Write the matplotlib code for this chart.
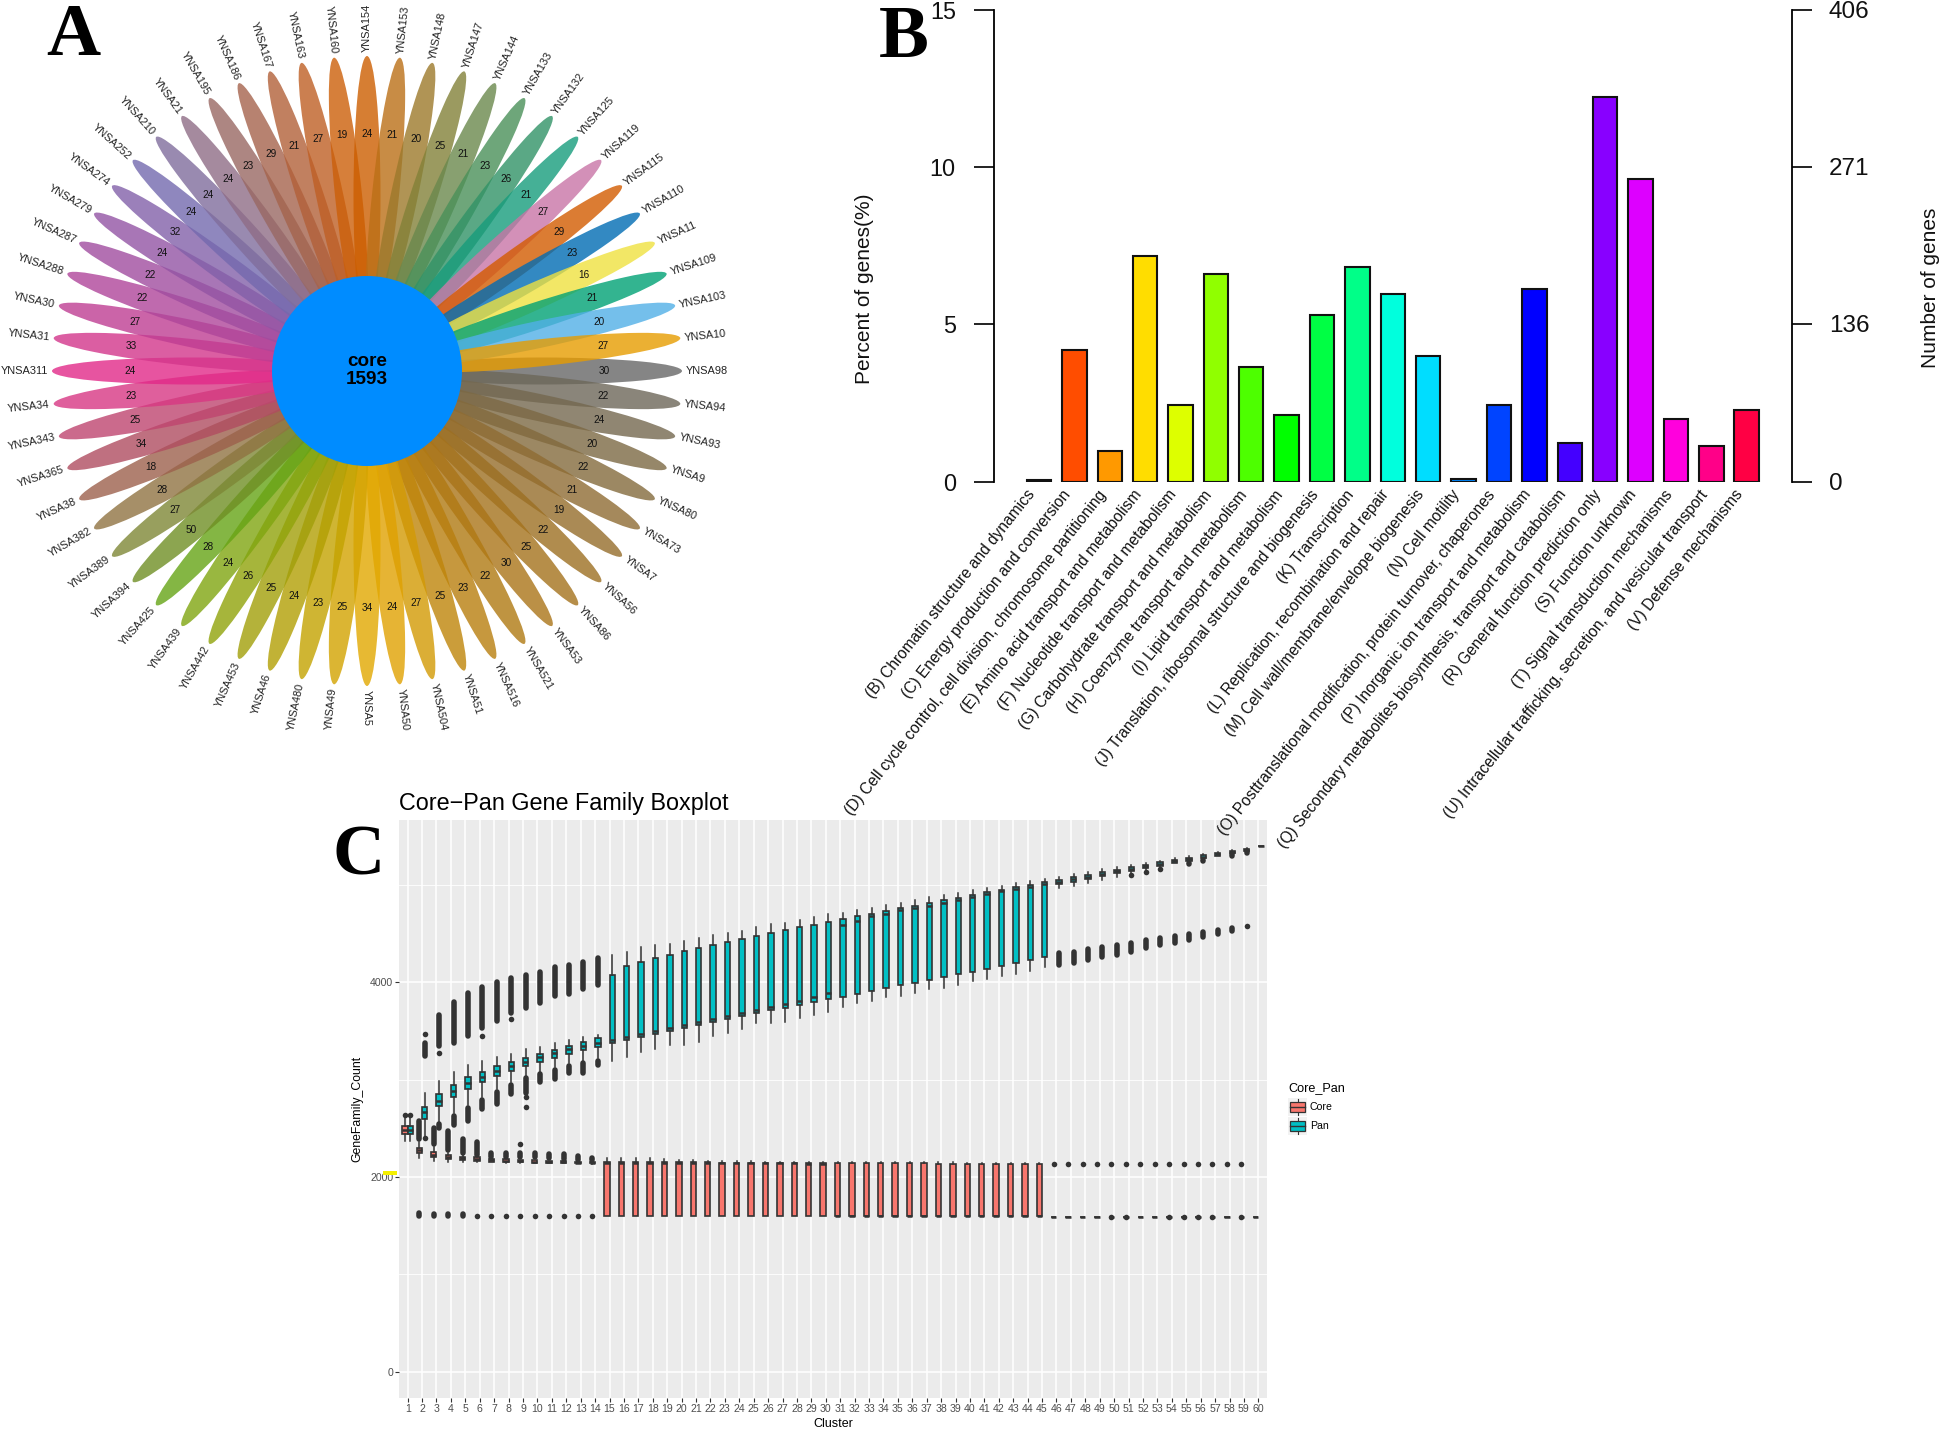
import numpy as np
import matplotlib
matplotlib.use("Agg")
import matplotlib.pyplot as plt
from matplotlib.colors import to_rgb
from matplotlib.patches import Ellipse, Circle, Rectangle

plt.rcParams['font.family'] = ['Liberation Sans', 'DejaVu Sans']

W, H = 1946, 1429

# ---- A: flower
strains = ["YNSA98", "YNSA94", "YNSA93", "YNSA9", "YNSA80", "YNSA73", "YNSA7", "YNSA56", "YNSA86", "YNSA53",
           "YNSA521", "YNSA516", "YNSA51", "YNSA504", "YNSA50", "YNSA5", "YNSA49", "YNSA480", "YNSA46", "YNSA453",
           "YNSA442", "YNSA439", "YNSA425", "YNSA394", "YNSA389", "YNSA382", "YNSA38", "YNSA365", "YNSA343", "YNSA34",
           "YNSA311", "YNSA31", "YNSA30", "YNSA288", "YNSA287", "YNSA279", "YNSA274", "YNSA252", "YNSA210", "YNSA21",
           "YNSA195", "YNSA186", "YNSA167", "YNSA163", "YNSA160", "YNSA154", "YNSA153", "YNSA148", "YNSA147", "YNSA144",
           "YNSA133", "YNSA132", "YNSA125", "YNSA119", "YNSA115", "YNSA110", "YNSA11", "YNSA109", "YNSA103", "YNSA10"]
unique_genes = [30, 22, 24, 20, 22, 21, 19, 22, 25, 30,
                22, 23, 25, 27, 24, 34, 25, 23, 24, 25,
                26, 24, 28, 50, 27, 28, 18, 34, 25, 23,
                24, 33, 27, 22, 22, 24, 32, 24, 24, 24,
                23, 29, 21, 27, 19, 24, 21, 20, 25, 21,
                23, 26, 21, 27, 29, 23, 16, 21, 20, 27]
petal_colors = ["#858585", "#8a857a", "#908672", "#968769", "#9c8863", "#a5895c", "#aa8a55", "#b08c4e", "#b68e49", "#bb9046",
                "#c09441", "#c6983e", "#cc9d3a", "#dcae36", "#e6b434", "#e8b92f", "#dcb52f", "#cfb52f", "#c1b235", "#b4b23a",
                "#a6b53b", "#99b740", "#84b644", "#8ca550", "#989f5e", "#a68f68", "#b08070", "#c07080", "#cc6a8c", "#e05f9c",
                "#e854a0", "#dc5ea2", "#cc64a8", "#bf6aae", "#b370b2", "#a976b6", "#9b80ba", "#8f87be", "#998ab0", "#a58a9e",
                "#ad8682", "#b78270", "#c18060", "#cc7f50", "#d67f3a", "#d67e32", "#c98c45", "#b09455", "#9b9a60", "#88a070",
                "#6ea67a", "#5aa985", "#45b096", "#d490b8", "#dc7c30", "#3089c2", "#f2e766", "#30b490", "#74bfec", "#ecb02c"]

# ---- B: COG categories
cog_labels = ["(B) Chromatin structure and dynamics", "(C) Energy production and conversion",
              "(D) Cell cycle control, cell division, chromosome partitioning",
              "(E) Amino acid transport and metabolism", "(F) Nucleotide transport and metabolism",
              "(G) Carbohydrate transport and metabolism", "(H) Coenzyme transport and metabolism",
              "(I) Lipid transport and metabolism", "(J) Translation, ribosomal structure and biogenesis",
              "(K) Transcription", "(L) Replication, recombination and repair",
              "(M) Cell wall/membrane/envelope biogenesis", "(N) Cell motility",
              "(O) Posttranslational modification, protein turnover, chaperones",
              "(P) Inorganic ion transport and metabolism",
              "(Q) Secondary metabolites biosynthesis, transport and catabolism",
              "(R) General function prediction only", "(S) Function unknown", "(T) Signal transduction mechanisms",
              "(U) Intracellular trafficking, secretion, and vesicular transport", "(V) Defense mechanisms"]
cog_percent = [0.04, 4.19, 0.98, 7.19, 2.44, 6.59, 3.65, 2.12, 5.31, 6.84, 5.98,
               4.0, 0.1, 2.44, 6.14, 1.22, 12.24, 9.62, 2.0, 1.13, 2.27]
cog_colors = ["#ff0000", "#ff4d00", "#ff9900", "#ffdd00", "#ddff00", "#90ff00", "#4dff00", "#00ff00", "#00ff44", "#00ff88",
              "#00ffdd", "#00ddff", "#0088ff", "#0044ff", "#0000ff", "#4400ff", "#8800ff", "#dd00ff", "#ff00dd", "#ff0088", "#ff0044"]

# ---- C: core / pan boxes, cluster 1..60
pan_q3 = [2523, 2715, 2848, 2944, 3023, 3081, 3135, 3183, 3224, 3265, 3306, 3347, 3382, 3426, 4072, 4164, 4202, 4243, 4277, 4315,
          4346, 4380, 4414, 4441, 4472, 4503, 4534, 4561, 4588, 4619, 4647, 4674, 4701, 4732, 4756, 4783, 4811, 4838, 4865, 4893,
          4920, 4944, 4971, 4995, 5023, 5047, 5074, 5098, 5129, 5153, 5177, 5204, 5231, 5252, 5276, 5300, 5324, 5344, 5368, 5392]
pan_q1 = [2441, 2595, 2729, 2824, 2899, 2971, 3036, 3091, 3139, 3183, 3224, 3265, 3299, 3337, 3371, 3402, 3436, 3467, 3498, 3532,
          3563, 3590, 3624, 3648, 3679, 3710, 3737, 3764, 3795, 3823, 3850, 3881, 3908, 3939, 3970, 3994, 4021, 4052, 4079, 4106,
          4137, 4164, 4192, 4223, 4253, 5002, 5029, 5057, 5088, 5115, 5142, 5166, 5194, 5217, 5245, 5272, 5296, 5320, 5347, 5392]
pan_med = [2482, 2670, 2780, 2886, 2961, 3029, 3091, 3139, 3183, 3228, 3269, 3310, 3344, 3371, 3405, 3433, 3467, 3494, 3529, 3563,
           3590, 3617, 3652, 3682, 3710, 3740, 3775, 3809, 3843, 3884, 4585, 4629, 4677, 4694, 4739, 4756, 4783, 4814, 4841, 4869,
           4903, 4930, 4954, 4978, 5006, 5026, 5053, 5077, 5108, 5135, 5159, 5187, 5214, 5238, 5259, 5286, 5310, 5334, 5358, 5392]
pan_hi = [2636, 2858, 2985, 3074, 3146, 3190, 3234, 3262, 3310, 3337, 3378, 3402, 3433, 3457, 4274, 4305, 4356, 4376, 4387, 4424,
          4452, 4482, 4500, 4527, 4561, 4595, 4609, 4636, 4664, 4694, 4708, 4739, 4763, 4794, 4814, 4838, 4869, 4896, 4917, 4941,
          4961, 4985, 5016, 5036, 5060, 5081, 5105, 5132, 5159, 5180, 5200, 5221, 5245, 5269, 5293, 5313, 5330, 5351, 5375, 5392]
pan_lo = [2373, 2414, 2568, 2653, 2735, 2824, 2899, 2971, 3036, 3081, 3125, 3166, 3194, 3217, 3194, 3234, 3286, 3317, 3358, 3354,
          3381, 3450, 3481, 3518, 3583, 3583, 3594, 3635, 3662, 3689, 3740, 3782, 3806, 3843, 3857, 3891, 3925, 3939, 3973, 4007,
          4034, 4065, 4079, 4117, 4151, 4961, 4985, 5019, 5043, 5081, 5115, 5149, 5177, 5217, 5245, 5272, 5296, 5320, 5347, 5392]

core_q3 = [2523, 2301, 2253, 2223, 2209, 2202, 2185, 2181, 2175, 2171, 2168, 2164, 2158, 2154, 2154, 2154, 2154, 2154, 2150, 2150,
           2150, 2150, 2147, 2147, 2147, 2147, 2147, 2147, 2144, 2144, 2144, 2144, 2144, 2140, 2140, 2140, 2140, 2137, 2137, 2137,
           2133, 2133, 2133, 2130, 2130, 1593, 1593, 1593, 1593, 1593, 1593, 1593, 1593, 1593, 1593, 1593, 1593, 1593, 1593, 1593]
core_q1 = [2441, 2250, 2202, 2181, 2175, 2164, 2158, 2154, 2151, 2147, 2144, 2144, 2144, 2140, 1600, 1600, 1600, 1600, 1600, 1600,
           1600, 1600, 1600, 1600, 1600, 1600, 1600, 1600, 1600, 1600, 1600, 1600, 1600, 1600, 1596, 1596, 1596, 1596, 1596, 1596,
           1596, 1596, 1596, 1596, 1596, 1593, 1593, 1593, 1593, 1593, 1593, 1593, 1593, 1593, 1593, 1593, 1593, 1593, 1593, 1593]
core_med = [2482, 2277, 2229, 2202, 2192, 2181, 2171, 2168, 2161, 2158, 2154, 2151, 2147, 2144, 2148, 2148, 2148, 2148, 2144, 2144,
            2144, 2144, 2141, 2141, 2141, 2141, 2141, 2141, 2138, 2138, 1600, 1600, 1600, 1600, 1596, 1596, 1596, 1596, 1596, 1596,
            1596, 1596, 1596, 1596, 1596, 1593, 1593, 1593, 1593, 1593, 1593, 1593, 1593, 1593, 1593, 1593, 1593, 1593, 1593, 1593]
core_hi = [2636, 2363, 2311, 2243, 2226, 2202, 2185, 2181, 2175, 2171, 2168, 2164, 2158, 2154, 2195, 2199, 2199, 2199, 2185, 2178,
           2175, 2168, 2164, 2164, 2161, 2158, 2158, 2158, 2158, 2158, 2154, 2154, 2154, 2154, 2154, 2150, 2150, 2150, 2150, 2147,
           2147, 2147, 2144, 2144, 2144, 1593, 1593, 1593, 1593, 1593, 1593, 1593, 1593, 1593, 1593, 1593, 1593, 1593, 1593, 1593]
core_lo = [2373, 2192, 2168, 2158, 2154, 2154, 2151, 2147, 2144, 2140, 2140, 2140, 2140, 2137, 1600, 1600, 1600, 1600, 1600, 1600,
           1600, 1600, 1600, 1600, 1600, 1600, 1600, 1600, 1600, 1600, 1600, 1600, 1600, 1600, 1596, 1596, 1596, 1596, 1596, 1596,
           1596, 1596, 1596, 1596, 1596, 1593, 1593, 1593, 1593, 1593, 1593, 1593, 1593, 1593, 1593, 1593, 1593, 1593, 1593, 1593]

# outliers so dense that they merge: cluster, top, bottom
pan_blob_k = [2, 3, 4, 5, 6, 7, 8, 9, 10, 11, 12, 13, 14,
              3, 4, 5, 6, 7, 8, 9, 10, 11, 12, 13, 14,
              46, 47, 48, 49, 50, 51, 52, 53, 54, 55, 56, 57, 58,
              54, 55, 56, 57, 58, 59]
pan_blob_hi = [3399, 3686, 3816, 3908, 3970, 4021, 4062, 4096, 4130, 4175, 4199, 4233, 4270,
               2568, 2653, 2729, 2817, 2899, 2968, 3036, 3081, 3125, 3163, 3194, 3217,
               4318, 4335, 4359, 4380, 4404, 4428, 4452, 4472, 4496, 4517, 4537, 4558, 4582,
               5217, 5245, 5272, 5296, 5320, 5347]
pan_blob_lo = [3217, 3320, 3354, 3423, 3508, 3576, 3662, 3706, 3764, 3829, 3850, 3908, 3942,
               2482, 2510, 2551, 2670, 2722, 2824, 2841, 2954, 2978, 3040, 3040, 3125,
               4147, 4168, 4205, 4233, 4257, 4284, 4329, 4356, 4380, 4411, 4435, 4472, 4500,
               5163, 5190, 5217, 5245, 5286, 5320]
pan_dot_k = [1, 2, 2, 3, 6, 8, 9, 9, 51, 52, 53, 59]
pan_dot_v = [2636, 3464, 2397, 3269, 3450, 3617, 2817, 2715, 5098, 5132, 5163, 4575]

core_blob_k = [2, 3, 4, 5, 6, 7, 8, 9, 10, 11, 12, 13, 14, 2, 3, 4, 5]
core_blob_hi = [2602, 2523, 2499, 2414, 2380, 2270, 2270, 2270, 2267, 2263, 2257, 2236, 2216, 1652, 1650, 1650, 1650]
core_blob_lo = [2363, 2311, 2250, 2226, 2202, 2181, 2181, 2181, 2175, 2171, 2161, 2154, 2147, 1578, 1580, 1580, 1580]
core_dot_k = [1, 9, 6, 7, 8, 9, 10, 11, 12, 13, 14,
              46, 47, 48, 49, 50, 51, 52, 53, 54, 55, 56, 57, 58, 59,
              50, 51, 54, 55, 56, 57, 59]
core_dot_v = [2636, 2339, 1600, 1600, 1600, 1600, 1600, 1600, 1600, 1600, 1600,
              2134, 2134, 2134, 2134, 2132, 2132, 2132, 2132, 2130, 2130, 2130, 2130, 2130, 2130,
              1593, 1593, 1593, 1593, 1593, 1593, 1593]


def ax_px(left, top, right, bottom, **kw):
    return fig.add_axes([left / W, 1 - bottom / H, (right - left) / W, (bottom - top) / H], **kw)


def box_stats(q1, med, q3, lo, hi):
    return [dict(q1=a, med=b, q3=c, whislo=d, whishi=e) for a, b, c, d, e in zip(q1, med, q3, lo, hi)]


fig = plt.figure(figsize=(W / 100, H / 100), dpi=100, facecolor="white")

# ---------------------------------------------------------------- C
ax_c = ax_px(399, 820, 1267, 1398, zorder=1)
ax_c.set_facecolor("#EBEBEB")
for s in ax_c.spines.values():
    s.set_visible(False)
ax_c.set_axisbelow(True)
clusters = np.arange(1, 61)
for_pos = {"Core": clusters - 0.1875, "Pan": clusters + 0.1875}
ax_c.bxp(box_stats(core_q1, core_med, core_q3, core_lo, core_hi), positions=for_pos["Core"], widths=0.375,
         patch_artist=True, showfliers=False, showcaps=False, manage_ticks=False,
         boxprops=dict(facecolor="#F8766D", edgecolor="#333333", linewidth=1.2),
         medianprops=dict(color="#333333", linewidth=1.8, solid_capstyle="butt"),
         whiskerprops=dict(color="#333333", linewidth=1.1))
ax_c.bxp(box_stats(pan_q1, pan_med, pan_q3, pan_lo, pan_hi), positions=for_pos["Pan"], widths=0.375,
         patch_artist=True, showfliers=False, showcaps=False, manage_ticks=False,
         boxprops=dict(facecolor="#00BFC4", edgecolor="#333333", linewidth=1.2),
         medianprops=dict(color="#333333", linewidth=1.8, solid_capstyle="butt"),
         whiskerprops=dict(color="#333333", linewidth=1.1))

# merged outliers, the round caps add about 25 counts at each end
blob_lw = 4.0
blob_r = 25
ax_c.vlines(np.array(pan_blob_k) + 0.1875, np.array(pan_blob_lo) + blob_r, np.array(pan_blob_hi) - blob_r,
            color="#333333", lw=blob_lw, capstyle="round", zorder=3)
ax_c.vlines(np.array(core_blob_k) - 0.1875, np.array(core_blob_lo) + blob_r, np.array(core_blob_hi) - blob_r,
            color="#333333", lw=blob_lw, capstyle="round", zorder=3)
ax_c.scatter(np.array(pan_dot_k) + 0.1875, pan_dot_v, s=blob_lw ** 2, c="#333333", lw=0, zorder=3)
ax_c.scatter(np.array(core_dot_k) - 0.1875, core_dot_v, s=blob_lw ** 2, c="#333333", lw=0, zorder=3)

ax_c.set_xlim(0.4, 60.6)
ax_c.set_ylim(-267, 5662)
ax_c.set_xticks(clusters)
ax_c.set_xticklabels([str(k) for k in clusters])
ax_c.set_yticks([0, 2000, 4000])
ax_c.set_yticks([1000, 3000, 5000], minor=True)
ax_c.grid(True, which="major", color="white", lw=1.1)
ax_c.grid(True, which="minor", axis="y", color="white", lw=0.6)
ax_c.tick_params(axis="both", which="major", length=2.6, width=0.8, color="#333333",
                 labelcolor="#4D4D4D", labelsize=7.6, pad=1.5)
ax_c.tick_params(axis="both", which="minor", length=0)
ax_c.set_title("Core\u2212Pan Gene Family Boxplot", loc="left", fontsize=16.8, pad=7)
ax_c.set_xlabel("Cluster", fontsize=9, labelpad=3)
ax_c.set_ylabel("GeneFamily_Count", fontsize=8.8, labelpad=5)

# ---------------------------------------------------------------- B
ax_b = ax_px(994, 10, 1792, 481.7, zorder=2)
ax_b.patch.set_visible(False)
x_b = np.arange(len(cog_percent))
ax_b.bar(x_b, cog_percent, width=0.69, color=cog_colors, edgecolor="#111111", linewidth=1.5)
ax_b.set_xlim(-1.27, 21.28)
ax_b.set_ylim(0, 15)
ax_b.set_yticks([0, 5, 10, 15])
ax_b.set_xticks([])
# labels end a little left of each bar centre
for k, label in zip(x_b, cog_labels):
    ax_b.annotate(label, xy=(k, 0), xycoords=("data", "axes fraction"), xytext=(-9, -4), textcoords="offset points",
                  rotation=51.5, ha="right", va="top", rotation_mode="anchor", fontsize=11.2, color="#111111",
                  annotation_clip=False)
ax_b.tick_params(axis="y", length=14.5, width=1.3, labelsize=16.8, pad=13, color="#111111", labelcolor="#111111")
for name in ["top", "bottom", "right"]:
    ax_b.spines[name].set_visible(False)
ax_b.spines["left"].set_linewidth(1.3)
ax_b2 = ax_b.twinx()
ax_b2.set_ylim(0, 406)
ax_b2.set_yticks([0, 136, 271, 406])
ax_b2.tick_params(axis="y", length=14.5, width=1.3, labelsize=17.5, pad=12, color="#111111", labelcolor="#111111")
for name in ["top", "bottom", "left"]:
    ax_b2.spines[name].set_visible(False)
ax_b2.spines["right"].set_linewidth(1.3)

# ---------------------------------------------------------------- overlay in pixels: A, legend, letters
ax_o = fig.add_axes([0, 0, 1, 1], zorder=3)
ax_o.set_xlim(0, W)
ax_o.set_ylim(H, 0)
ax_o.axis("off")
ax_o.patch.set_visible(False)

cx, cy = 367, 371
alpha = 0.8
for i, (name, n, col) in enumerate(zip(strains, unique_genes, petal_colors)):
    deg = 6.0 * i
    t = np.deg2rad(deg)
    c, s = np.cos(t), np.sin(t)
    base = np.clip((np.array(to_rgb(col)) - (1 - alpha)) / alpha, 0, 1)
    ax_o.add_patch(Ellipse((cx + 175 * c, cy + 175 * s), 280, 27, angle=deg, facecolor=base, edgecolor="none", alpha=alpha, zorder=2))
    ax_o.text(cx + 237 * c, cy + 237 * s, str(n), fontsize=7.2, ha="center", va="center", color="#111111", zorder=4)
    if c > -1e-6:
        ax_o.text(cx + 319 * c, cy + 319 * s, name, fontsize=7.9, rotation=-deg, rotation_mode="anchor",
                  ha="left", va="center", color="#222222")
    else:
        ax_o.text(cx + 319 * c, cy + 319 * s, name, fontsize=7.9, rotation=180 - deg, rotation_mode="anchor",
                  ha="right", va="center", color="#222222")
ax_o.add_patch(Circle((cx, cy), 95, facecolor="#008CFF", edgecolor="none", zorder=3))
ax_o.text(cx, 361, "core", fontsize=13.6, fontweight="bold", ha="center", va="center", zorder=4)
ax_o.text(cx, 379, "1593", fontsize=13.6, fontweight="bold", ha="center", va="center", zorder=4)

# axis titles of B
ax_o.text(865, 289, "Percent of genes(%)", fontsize=15, rotation=90, ha="center", va="center", color="#111111")
ax_o.text(1930, 288, "Number of genes", fontsize=15, rotation=90, ha="center", va="center", color="#111111")

# legend of C
ax_o.text(1288, 1088, "Core_Pan", fontsize=9.1, ha="left", va="center")
for y0, col, label in [(1098, "#F8766D", "Core"), (1117, "#00BFC4", "Pan")]:
    ax_o.add_patch(Rectangle((1288, y0), 19, 18, facecolor="#F2F2F2", edgecolor="none"))
    ax_o.plot([1297.5, 1297.5], [y0 + 1, y0 + 17], color="#333333", lw=0.8)
    ax_o.add_patch(Rectangle((1290, y0 + 4), 15, 10, facecolor=col, edgecolor="#333333", lw=0.9, zorder=3))
    ax_o.plot([1290, 1305], [y0 + 9, y0 + 9], color="#333333", lw=1.0, zorder=4)
    ax_o.text(1310, y0 + 9, label, fontsize=7.6, ha="left", va="center")

# yellow mark over the 2000 label
ax_o.add_patch(Rectangle((383, 1171), 14, 4, facecolor="#F4F000", edgecolor="none"))

for letter, x, y, size in [("A", 46, 55, 54), ("B", 879, 57, 54), ("C", 332, 874, 52)]:
    ax_o.text(x, y, letter, family="Liberation Serif", fontweight="bold", fontsize=size, ha="left", va="baseline", color="black")

fig.savefig("out.png", dpi=100)
